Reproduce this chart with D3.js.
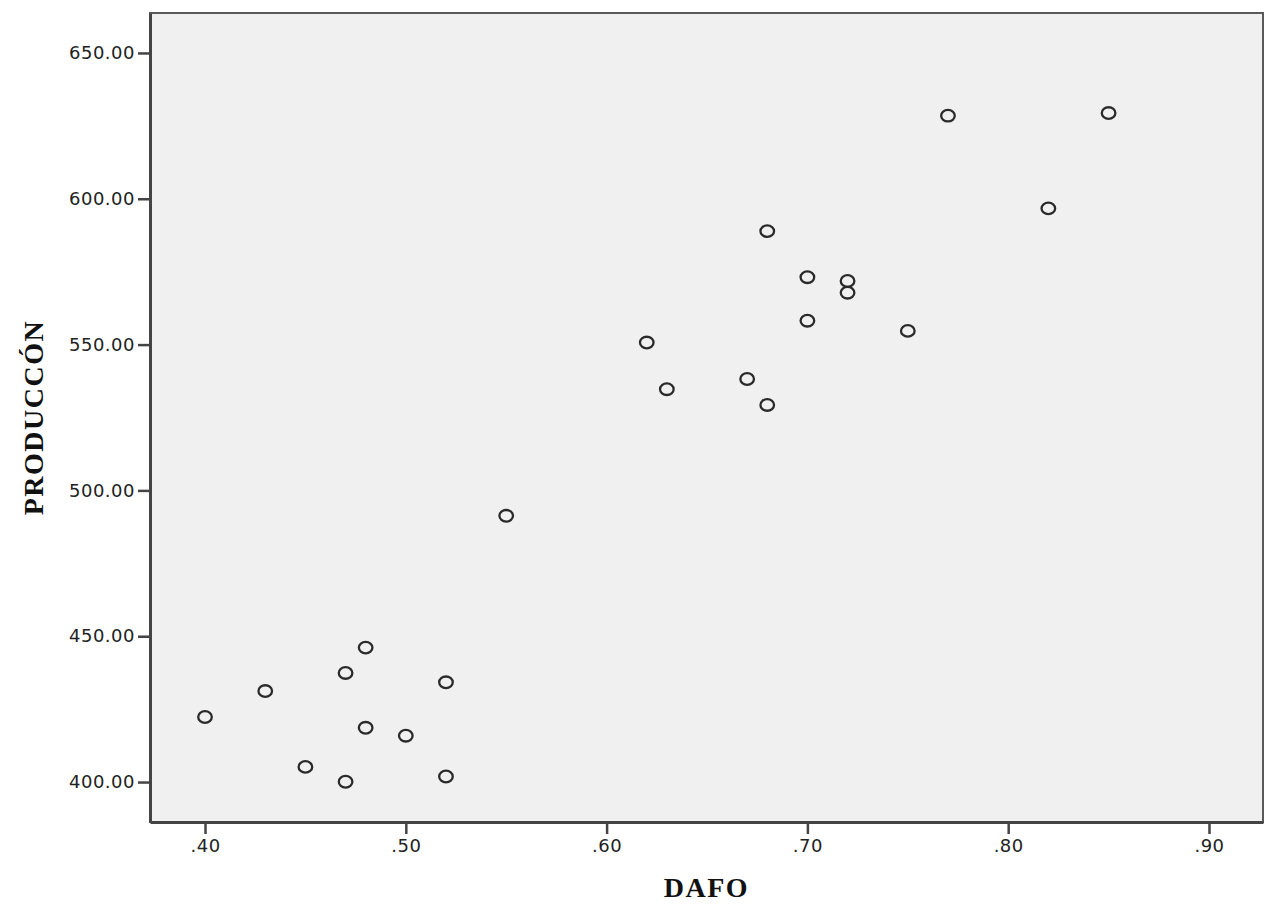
<!DOCTYPE html>
<html>
<head>
<meta charset="utf-8">
<script src="https://cdn.jsdelivr.net/npm/d3@7"></script>
<style>
  body { margin: 0; background: #fff; }
</style>
</head>
<body>
<script>
 // scatter plot DAFO vs PRODUCCÓN

 // data
 var dafo = [.40, .43, .45, .47, .47, .48, .48, .50, .52, .52, .55,
             .62, .63, .67, .68, .68, .70, .70, .72, .72, .75, .77, .82, .85];
 var produccion = [422.3, 431.2, 405.2, 437.4, 400.1, 446.1, 418.6, 415.9, 434.2, 401.9, 491.3,
                   550.7, 534.7, 538.2, 588.9, 529.3, 573.1, 558.2, 571.8, 567.8, 554.7, 628.5, 596.7, 629.4];
 var xTicks = [.40, .50, .60, .70, .80, .90];
 var yTicks = [400, 450, 500, 550, 600, 650];

 // svg margin parameters
 var margin = { top: 13, right: 2, bottom: 82, left: 150 };
 var width = 1265 - margin.left - margin.right,
     height = 904 - margin.top - margin.bottom;

 var svg = d3.select("body").append("svg")
   .attr("width", 1265)
   .attr("height", 904);

 var g = svg.append("g")
   .attr("transform", "translate(" + margin.left + "," + margin.top + ")");

 // scales
 var x = d3.scaleLinear().domain([0.3726, 0.9269]).range([0, width]);
 var y = d3.scaleLinear().domain([386.3, 663.7]).range([height, 0]);

 // plot background
 g.append("rect")
   .attr("width", width)
   .attr("height", height)
   .attr("fill", "#f0f0f0")
   .attr("stroke", "#5a5a5a")
   .attr("stroke-width", 2);

 var tickFont = function (sel) {
   sel.attr("fill", "#222")
     .style("font-family", "DejaVu Sans")
     .style("font-size", "18px")
     .style("letter-spacing", "0.5px");
 };

 // y axis
 var yAxis = g.append("g")
   .call(d3.axisLeft(y).tickValues(yTicks).tickSize(12).tickSizeOuter(0).tickPadding(3)
     .tickFormat(d3.format(".2f")));
 yAxis.select(".domain").attr("stroke", "#444").attr("stroke-width", 3);
 yAxis.selectAll(".tick line").attr("stroke", "#444").attr("stroke-width", 2.5);
 yAxis.selectAll(".tick text").call(tickFont);

 // x axis
 var xAxis = g.append("g")
   .attr("transform", "translate(0," + height + ")")
   .call(d3.axisBottom(x).tickValues(xTicks).tickSize(12).tickSizeOuter(0).tickPadding(5)
     .tickFormat(function (d) { return d3.format(".2f")(d).replace(/^0/, ""); }));
 xAxis.select(".domain").attr("stroke", "#444").attr("stroke-width", 3);
 xAxis.selectAll(".tick line").attr("stroke", "#444").attr("stroke-width", 2.5);
 xAxis.selectAll(".tick text").call(tickFont);

 // points
 var pts = dafo.map(function (d, i) { return [d, produccion[i]]; });
 g.selectAll("ellipse.pt")
   .data(pts)
   .enter().append("ellipse")
   .attr("class", "pt")
   .attr("cx", function (d) { return x(d[0]); })
   .attr("cy", function (d) { return y(d[1]); })
   .attr("rx", 6.8)
   .attr("ry", 5.8)
   .attr("fill", "none")
   .attr("stroke", "#2a2a2a")
   .attr("stroke-width", 2.3);

 // axis titles
 svg.append("text")
   .attr("x", margin.left + width / 2)
   .attr("y", 897)
   .attr("text-anchor", "middle")
   .style("font-family", "Liberation Serif")
   .style("font-weight", "bold")
   .style("font-size", "28px")
   .style("letter-spacing", "1.5px")
   .attr("fill", "#111")
   .text("DAFO");

 svg.append("text")
   .attr("transform", "translate(43," + (margin.top + height / 2) + ") rotate(-90)")
   .attr("text-anchor", "middle")
   .style("font-family", "Liberation Serif")
   .style("font-weight", "bold")
   .style("font-size", "28px")
   .style("letter-spacing", "1.5px")
   .attr("fill", "#111")
   .text("PRODUCCÓN");
</script>
</body>
</html>
